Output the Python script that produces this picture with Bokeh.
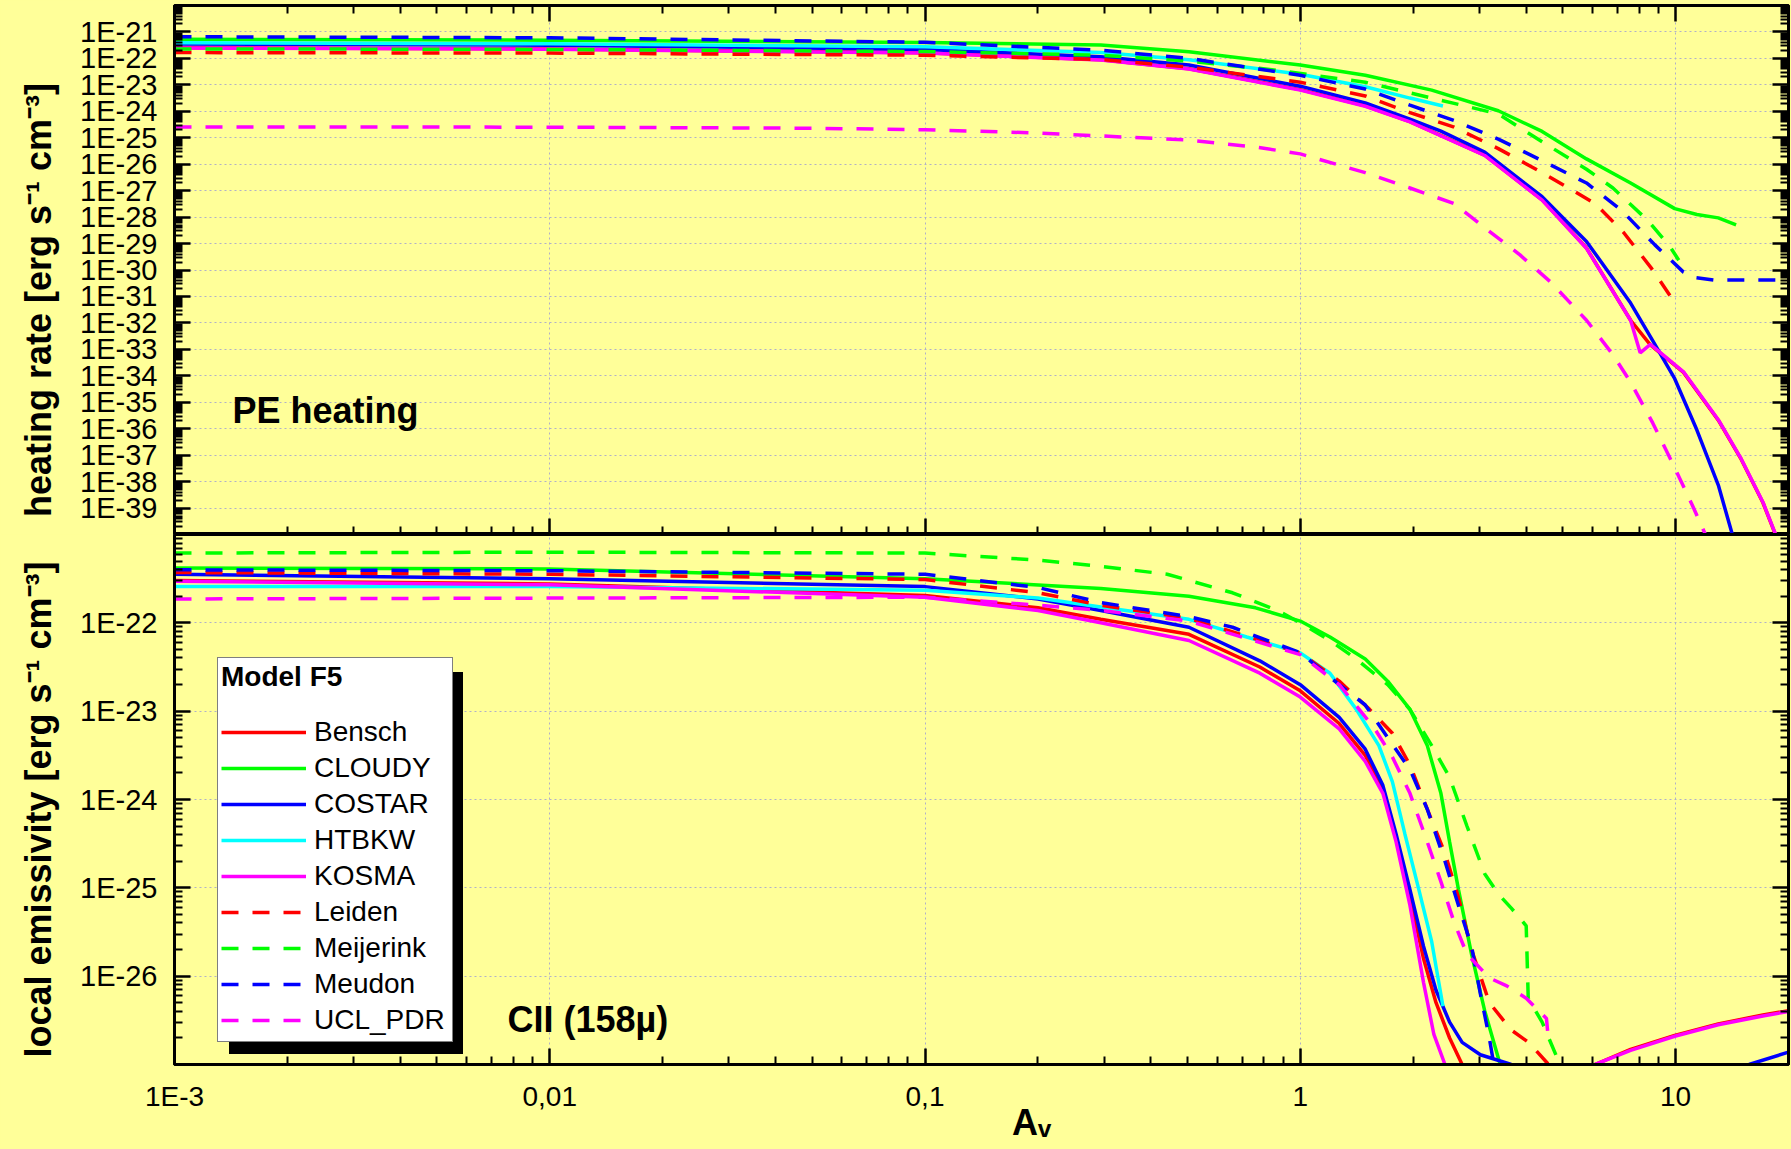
import math
from bokeh.plotting import figure
from bokeh.layouts import column
from bokeh.models import (Range1d, FixedTicker, CustomJSTickFormatter, Legend, LegendItem,
                          Label, BoxAnnotation, LogAxis)
from bokeh.embed import file_html
from bokeh.resources import INLINE

NaN = float("nan")

# ---------------- data (A_V and log10 of value) ----------------
models = ["Bensch", "CLOUDY", "COSTAR", "HTBKW", "KOSMA", "Leiden", "Meijerink", "Meudon", "UCL_PDR"]
colors = ["#FF0000", "#00FF00", "#0000FF", "#00FFFF", "#FF00FF",
          "#FF0000", "#00FF00", "#0000FF", "#FF00FF"]
dashed = [False, False, False, False, False, True, True, True, True]

x_ticks = [0.001, 0.01, 0.1, 1, 10]
heat_ticks_exp = list(range(-39, -20))
emis_ticks_exp = list(range(-26, -21))

# --- PE heating rate [erg s-1 cm-3] (log10) ---
heat_av_bensch = [0.001, 0.01, 0.1, 0.294, 0.505, 1.0, 1.49, 1.96, 3.1, 4.41, 5.79, 7.59, 8.57, 10.5, 13.0, 14.9, 17.1, 18.6]
heat_lg_bensch = [-21.6, -21.64, -21.79, -22.05, -22.39, -23.18, -23.79, -24.39, -25.66, -27.35, -29.17, -31.9, -32.83, -33.87, -35.68, -37.11, -38.8, -40.12]
heat_av_cloudy = [0.001, 0.01, 0.1, 0.294, 0.505, 1.0, 1.49, 2.24, 3.37, 4.41, 5.79, 7.59, 9.95, 11.4, 13.0, 14.5]
heat_lg_cloudy = [-21.28, -21.31, -21.4, -21.49, -21.75, -22.25, -22.64, -23.2, -23.98, -24.76, -25.8, -26.71, -27.68, -27.9, -28.03, -28.29]
heat_av_costar = [0.001, 0.01, 0.1, 0.294, 0.505, 1.0, 1.49, 1.96, 2.37, 3.1, 4.41, 5.79, 7.59, 8.7, 9.95, 11.4, 13.0, 14.3]
heat_lg_costar = [-21.46, -21.5, -21.66, -21.94, -22.25, -23.05, -23.68, -24.3, -24.75, -25.54, -27.23, -28.92, -31.25, -32.68, -34.11, -36.05, -38.13, -40.2]
heat_av_htbkw = [0.001, 0.01, 0.1, 0.294, 0.505, 1.0, 1.49, 1.96, 2.4]
heat_lg_htbkw = [-21.41, -21.45, -21.56, -21.78, -22.05, -22.6, -23.07, -23.5, -23.8]
heat_av_kosma = [0.001, 0.01, 0.1, 0.294, 0.505, 1.0, 1.49, 1.96, 3.1, 4.41, 5.79, 7.59, 8.05, 8.57, 10.5, 13.0, 14.9, 17.1, 18.6]
heat_lg_kosma = [-21.61, -21.65, -21.8, -22.06, -22.4, -23.2, -23.81, -24.4, -25.67, -27.36, -29.18, -31.9, -33.13, -32.81, -33.85, -35.66, -37.09, -38.78, -40.1]
heat_av_leiden = [0.001, 0.01, 0.1, 0.294, 0.505, 1.0, 1.49, 1.96, 2.57, 3.37, 4.41, 6.11, 7.28, 8.64, 9.81, 10.08]
heat_lg_leiden = [-21.78, -21.8, -21.88, -22.04, -22.33, -22.9, -23.42, -24.05, -24.6, -25.41, -26.32, -27.49, -28.59, -29.95, -31.1, -31.36]
heat_av_meijerink = [0.001, 0.01, 0.1, 0.294, 0.505, 0.869, 1.49, 2.57, 3.37, 4.41, 5.79, 6.81, 8.45, 9.66, 10.2]
heat_lg_meijerink = [-21.64, -21.66, -21.74, -21.88, -22.1, -22.45, -22.9, -23.7, -24.1, -25.15, -26.19, -26.9, -28.14, -29.11, -29.63]
heat_av_meudon = [0.001, 0.01, 0.1, 0.294, 0.505, 1.0, 1.49, 1.96, 2.57, 3.37, 4.41, 5.79, 7.19, 8.81, 10.5, 11.2, 12.7, 20.0]
heat_lg_meudon = [-21.18, -21.22, -21.39, -21.69, -22.0, -22.64, -23.16, -23.77, -24.35, -25.05, -25.87, -26.71, -27.75, -29.05, -30.08, -30.28, -30.38, -30.38]
heat_av_ucl = [0.001, 0.01, 0.05, 0.1, 0.2, 0.294, 0.505, 0.758, 1.0, 1.49, 1.96, 2.57, 3.1, 3.85, 4.66, 5.79, 6.8, 7.59, 8.7, 9.95, 11.1, 12.1]
heat_lg_ucl = [-24.59, -24.6, -24.64, -24.7, -24.82, -24.93, -25.09, -25.35, -25.61, -26.32, -26.9, -27.49, -28.4, -29.43, -30.47, -31.9, -33.19, -34.24, -35.79, -37.48, -38.91, -40.1]

# --- CII 158 micron local emissivity [erg s-1 cm-3] (log10) ---
emis_av_bensch = [0.001, 0.01, 0.1, 0.2, 0.294, 0.505, 0.78, 1.0, 1.27, 1.49, 1.66, 1.8, 1.96, 2.13, 2.3, 2.5, 2.7, NaN, 6.1, 7.59, 9.95, 13.0, 17.1, 20.0]
emis_lg_bensch = [-21.52, -21.56, -21.69, -21.83, -21.96, -22.13, -22.5, -22.77, -23.14, -23.5, -23.88, -24.43, -25.1, -25.8, -26.3, -26.7, -27.0, NaN, -27.0, -26.83, -26.67, -26.54, -26.44, -26.39]
emis_av_cloudy = [0.001, 0.01, 0.1, 0.294, 0.505, 0.76, 1.0, 1.2, 1.49, 1.71, 1.96, 2.18, 2.37, 2.5, 2.64, 2.86, 3.1, 3.41]
emis_lg_cloudy = [-21.38, -21.39, -21.5, -21.61, -21.7, -21.83, -21.98, -22.16, -22.41, -22.66, -22.98, -23.39, -23.93, -24.48, -25.02, -25.75, -26.39, -27.0]
emis_av_costar = [0.001, 0.01, 0.1, 0.2, 0.294, 0.505, 0.78, 1.0, 1.27, 1.49, 1.66, 1.8, 1.96, 2.13, 2.3, 2.5, 2.7, 3.02, 3.65, NaN, 15.7, 20.0]
emis_lg_costar = [-21.45, -21.5, -21.59, -21.73, -21.86, -22.05, -22.43, -22.7, -23.07, -23.43, -23.84, -24.39, -25.02, -25.66, -26.16, -26.52, -26.75, -26.89, -27.0, NaN, -27.0, -26.86]
emis_av_htbkw = [0.001, 0.01, 0.1, 0.2, 0.294, 0.505, 0.72, 1.0, 1.2, 1.41, 1.62, 1.76, 1.9, 2.07, 2.24, 2.4]
emis_lg_htbkw = [-21.59, -21.59, -21.63, -21.72, -21.82, -21.96, -22.16, -22.34, -22.57, -22.98, -23.39, -23.8, -24.39, -25.02, -25.61, -26.34]
emis_av_kosma = [0.001, 0.01, 0.1, 0.2, 0.294, 0.505, 0.78, 1.0, 1.27, 1.49, 1.66, 1.8, 1.96, 2.13, 2.27, 2.43, NaN, 6.1, 7.59, 9.95, 13.0, 17.1, 20.0]
emis_lg_kosma = [-21.53, -21.57, -21.71, -21.86, -22.0, -22.2, -22.57, -22.84, -23.2, -23.57, -23.93, -24.48, -25.2, -26.07, -26.66, -27.0, NaN, -27.0, -26.84, -26.68, -26.55, -26.45, -26.4]
emis_av_leiden = [0.001, 0.01, 0.1, 0.2, 0.294, 0.505, 1.0, 1.27, 1.53, 1.76, 1.96, 2.18, 2.43, 2.64, 2.86, 3.19, 3.65, 4.06, 4.59]
emis_lg_leiden = [-21.43, -21.45, -21.51, -21.66, -21.8, -21.95, -22.34, -22.66, -22.98, -23.25, -23.61, -24.11, -24.61, -25.11, -25.7, -26.3, -26.61, -26.75, -27.0]
emis_av_meijerink = [0.001, 0.01, 0.1, 0.2, 0.294, 0.442, 0.66, 0.869, 1.0, 1.2, 1.41, 1.71, 1.96, 2.24, 2.5, 2.78, 3.1, 3.37, 3.65, 4.0, 4.05, 4.41, 4.92]
emis_lg_meijerink = [-21.21, -21.2, -21.21, -21.29, -21.36, -21.45, -21.66, -21.86, -22.0, -22.2, -22.41, -22.7, -22.98, -23.39, -23.75, -24.3, -24.84, -25.07, -25.23, -25.43, -26.25, -26.52, -27.0]
emis_av_meudon = [0.001, 0.01, 0.1, 0.2, 0.294, 0.505, 0.66, 1.0, 1.27, 1.49, 1.71, 1.96, 2.18, 2.43, 2.64, 2.86, 3.02, 3.19, 3.28]
emis_lg_meudon = [-21.4, -21.41, -21.45, -21.6, -21.77, -21.93, -22.05, -22.34, -22.7, -22.93, -23.3, -23.66, -24.11, -24.7, -25.2, -25.66, -26.2, -26.7, -27.0]
emis_av_ucl = [0.001, 0.01, 0.1, 0.2, 0.294, 0.505, 1.0, 1.27, 1.58, 1.76, 1.96, 2.18, 2.37, 2.57, 2.78, 3.19, 3.55, 4.0, 4.53, 4.59]
emis_lg_ucl = [-21.73, -21.72, -21.71, -21.8, -21.86, -21.98, -22.36, -22.7, -23.2, -23.52, -23.93, -24.48, -24.93, -25.39, -25.75, -26.02, -26.11, -26.25, -26.48, -26.75]

heat_series = [(heat_av_bensch, heat_lg_bensch), (heat_av_cloudy, heat_lg_cloudy), (heat_av_costar, heat_lg_costar),
               (heat_av_htbkw, heat_lg_htbkw), (heat_av_kosma, heat_lg_kosma), (heat_av_leiden, heat_lg_leiden),
               (heat_av_meijerink, heat_lg_meijerink), (heat_av_meudon, heat_lg_meudon), (heat_av_ucl, heat_lg_ucl)]
emis_series = [(emis_av_bensch, emis_lg_bensch), (emis_av_cloudy, emis_lg_cloudy), (emis_av_costar, emis_lg_costar),
               (emis_av_htbkw, emis_lg_htbkw), (emis_av_kosma, emis_lg_kosma), (emis_av_leiden, emis_lg_leiden),
               (emis_av_meijerink, emis_lg_meijerink), (emis_av_meudon, emis_lg_meudon), (emis_av_ucl, emis_lg_ucl)]

# ---------------- styling ----------------
BG = "#FFFF99"
FONT = "Liberation Sans"
GRID = "#B0B0C8"
W = 1791
LEFT = 174
RIGHT = 3
NBSP = "\u00a0"   # used only to nudge centred titles to their place in the original

x_minor = [k * 10.0 ** d for d in range(-3, 2) for k in range(2, 10) if k * 10.0 ** d < 20]
heat_minor = [k * 10.0 ** d for d in range(-40, -20) for k in range(2, 10)]
emis_minor = [k * 10.0 ** d for d in range(-27, -21) for k in range(2, 10)]

xticker = FixedTicker(ticks=x_ticks, minor_ticks=x_minor)
heat_ticker = FixedTicker(ticks=[10.0 ** e for e in heat_ticks_exp], minor_ticks=heat_minor)
emis_ticker = FixedTicker(ticks=[10.0 ** e for e in emis_ticks_exp], minor_ticks=emis_minor)

y_fmt = CustomJSTickFormatter(code="return '1E' + Math.round(Math.log10(tick));")
x_fmt = CustomJSTickFormatter(code="""
const e = Math.round(Math.log10(tick));
if (e <= -3) { return '1E' + e; }
return String(tick).replace('.', ',');
""")


def style_axis(ax, ticker, show_labels, fmt=None, size="29px", standoff=17):
    ax.ticker = ticker
    ax.axis_line_color = "black"
    ax.axis_line_width = 3
    ax.major_tick_in = 16
    ax.major_tick_out = 0
    ax.minor_tick_in = 8
    ax.minor_tick_out = 0
    ax.major_tick_line_color = "black"
    ax.minor_tick_line_color = "black"
    ax.major_tick_line_width = 2.5
    ax.minor_tick_line_width = 2
    if show_labels:
        ax.formatter = fmt
        ax.major_label_text_font = FONT
        ax.major_label_text_font_size = size
        ax.major_label_text_color = "black"
        ax.major_label_standoff = standoff
    else:
        ax.major_label_text_font_size = "1px"
        ax.major_label_text_alpha = 0
        ax.major_label_standoff = 0


def style_fig(p, yticker):
    p.background_fill_color = BG
    p.border_fill_color = BG
    p.outline_line_color = "black"
    p.outline_line_width = 3
    p.xgrid.ticker = xticker
    p.ygrid.ticker = yticker
    for g in (p.xgrid, p.ygrid):
        g.grid_line_color = GRID
        g.grid_line_dash = "2 3"
        g.grid_line_width = 1


xr = Range1d(1e-3, 20)

# ---------------- top panel: PE heating ----------------
p1 = figure(width=W, height=534, x_axis_type="log", y_axis_type="log",
            x_range=xr, y_range=Range1d(1e-40, 1e-20),
            output_backend="svg", toolbar_location=None,
            min_border_left=LEFT, min_border_right=RIGHT, min_border_top=5, min_border_bottom=0)
style_fig(p1, heat_ticker)
style_axis(p1.yaxis[0], heat_ticker, True, y_fmt, "29px", 17)
p1.yaxis[0].axis_label = "heating rate [erg s\u207b\u00b9 cm\u207b\u00b3]" + NBSP * 6
style_axis(p1.xaxis[0], xticker, False)
ax_r1 = LogAxis()
style_axis(ax_r1, heat_ticker, False)
p1.add_layout(ax_r1, "right")
ax_t1 = LogAxis()
style_axis(ax_t1, xticker, False)
p1.add_layout(ax_t1, "above")

# ---------------- bottom panel: CII emissivity ----------------
p2 = figure(width=W, height=615, x_axis_type="log", y_axis_type="log",
            x_range=xr, y_range=Range1d(1e-27, 1e-21),
            output_backend="svg", toolbar_location=None,
            min_border_left=LEFT, min_border_right=RIGHT, min_border_top=0, min_border_bottom=85)
style_fig(p2, emis_ticker)
style_axis(p2.yaxis[0], emis_ticker, True, y_fmt, "29px", 17)
p2.yaxis[0].axis_label = "local emissivity [erg s\u207b\u00b9 cm\u207b\u00b3]" + NBSP * 2
style_axis(p2.xaxis[0], xticker, True, x_fmt, "28px", 16)
p2.xaxis[0].axis_label = NBSP * 10 + "A\u1d65"
p2.xaxis[0].axis_label_text_font = FONT
p2.xaxis[0].axis_label_text_font_style = "bold"
p2.xaxis[0].axis_label_text_font_size = "36px"
p2.xaxis[0].axis_label_text_color = "black"
p2.xaxis[0].axis_label_standoff = -13
ax_r2 = LogAxis()
style_axis(ax_r2, emis_ticker, False)
p2.add_layout(ax_r2, "right")

for p in (p1, p2):
    yax = p.yaxis[0]
    yax.axis_label_text_font = FONT
    yax.axis_label_text_font_style = "bold"
    yax.axis_label_text_font_size = "36px"
    yax.axis_label_text_color = "black"
    yax.axis_label_standoff = 18

# ---------------- lines ----------------
renderers = []
for (av, lg), col, dsh in zip(heat_series, colors, dashed):
    p1.line(av, [10.0 ** v for v in lg], line_color=col, line_width=3.5,
            line_dash="17 14" if dsh else "solid")
for (av, lg), col, dsh in zip(emis_series, colors, dashed):
    r = p2.line(av, [10.0 ** v for v in lg], line_color=col, line_width=3.5,
                line_dash="17 14" if dsh else "solid")
    renderers.append(r)

# ---------------- texts ----------------
p1.add_layout(Label(x=58, y=124, x_units="screen", y_units="screen", text="PE heating",
                    text_font=FONT, text_font_style="bold", text_font_size="36px",
                    text_baseline="middle", text_color="black"))
p2.add_layout(Label(x=333, y=45, x_units="screen", y_units="screen", text="CII (158\u00b5)",
                    text_font=FONT, text_font_style="bold", text_font_size="36px",
                    text_baseline="middle", text_color="black"))

# ---------------- legend with shadow ----------------
LEG_X, LEG_Y, LEG_W, LEG_H, SH = 43, 22, 234, 382, 11.5
shadow = BoxAnnotation(left=LEG_X + SH, right=LEG_X + LEG_W + SH,
                       bottom=LEG_Y - SH, top=LEG_Y + LEG_H - SH,
                       left_units="screen", right_units="screen",
                       bottom_units="screen", top_units="screen",
                       fill_color="black", fill_alpha=1, line_color=None)
p2.add_layout(shadow)
legend = Legend(items=[LegendItem(label=m, renderers=[r]) for m, r in zip(models, renderers)],
                location=(LEG_X, LEG_Y), title="Model F5",
                title_text_font=FONT, title_text_font_style="bold", title_text_font_size="28px",
                title_text_color="black", title_standoff=21,
                label_text_font=FONT, label_text_font_size="28px", label_text_color="black",
                glyph_width=85, glyph_height=36, label_height=36, label_width=135,
                label_standoff=8, spacing=0, padding=3, margin=0,
                border_line_color="black", border_line_width=1.5,
                background_fill_color="white", background_fill_alpha=1)
p2.add_layout(legend)

layout = column(p1, p2, spacing=0)
html = file_html(layout, INLINE, title="PDR Model Comparison")
html = html.replace("<head>", "<head>\n<style>body{background-color:#FFFF99;}</style>", 1)
open("out.html", "w").write(html)
